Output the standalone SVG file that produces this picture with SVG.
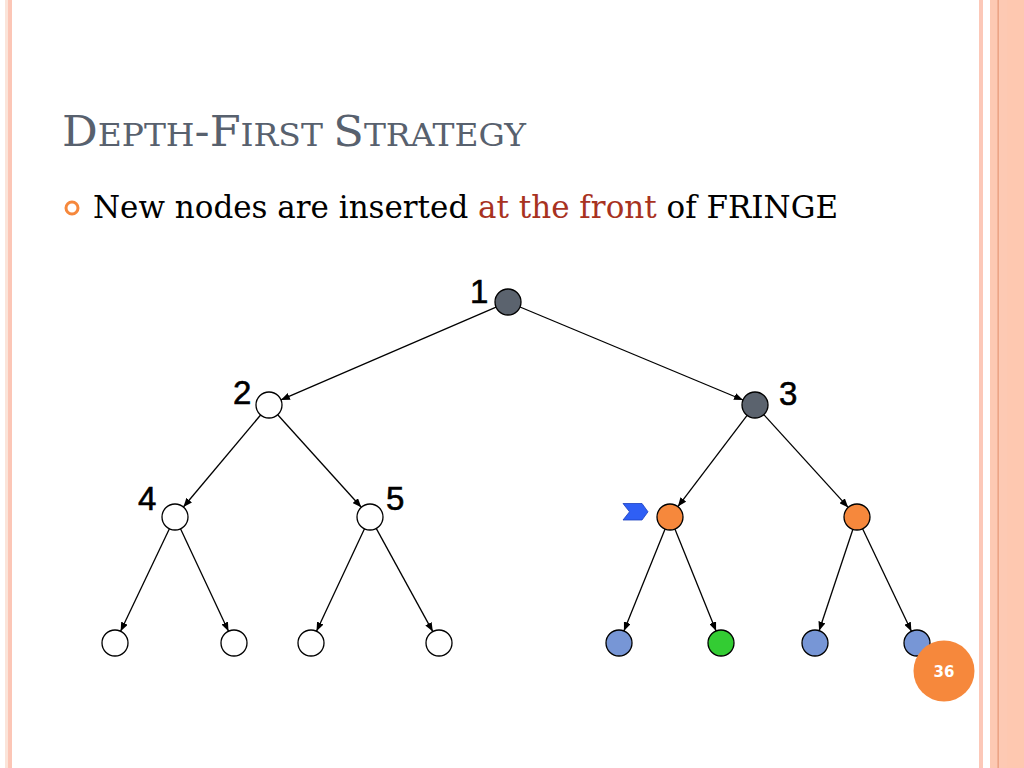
<svg xmlns="http://www.w3.org/2000/svg" width="1024" height="768" viewBox="0 0 1024 768">
  <style>
    .node { stroke: #000; stroke-width: 1.3; }
    .white { fill: #fff; }
    .dark { fill: #5b636e; }
    .orange { fill: #f6883c; }
    .blue { fill: #7796d6; }
    .green { fill: #33cc33; }
    .edge { stroke: #000; stroke-width: 1.3; fill: none; marker-end: url(#arrow); }
    .label { font-family: "Liberation Sans", Arial, sans-serif; font-size: 33px; fill: #000; stroke: #000; stroke-width: 0.6; }
    .title { font-family: "DejaVu Serif", "Liberation Serif", serif; fill: #58616e; }
    .body { font-family: "DejaVu Serif", "Liberation Serif", serif; font-size: 32px; fill: #000; }
  </style>
  <defs>
    <marker id="arrow" viewBox="0 0 10 8" refX="10" refY="4" markerWidth="9" markerHeight="7.2" markerUnits="userSpaceOnUse" orient="auto">
      <path d="M0,0 L10,4 L0,8 z" fill="#000"/>
    </marker>
  </defs>
  <rect width="1024" height="768" fill="#fff"/>
  <!-- borders -->
  <g id="border-left">
    <rect x="5" y="0" width="3" height="768" fill="#fbe4d9"/>
    <rect x="8" y="0" width="4" height="768" fill="#fcc6b6"/>
  </g>
  <g id="border-right">
    <rect x="979" y="0" width="4" height="768" fill="#fcc8b8"/>
    <rect x="990" y="0" width="34" height="768" fill="#fdc9b3"/>
    <rect x="997.5" y="0" width="1.3" height="768" fill="#e89b7c"/>
    <rect x="1007.5" y="0" width="16.5" height="768" fill="#fec8b0"/>
  </g>
  <!-- title -->
  <g id="title">
    <text class="title" x="62" y="146" textLength="464" lengthAdjust="spacingAndGlyphs"><tspan font-size="42">D</tspan><tspan font-size="31">EPTH</tspan><tspan font-size="42">-F</tspan><tspan font-size="31">IRST </tspan><tspan font-size="42">S</tspan><tspan font-size="31">TRATEGY</tspan></text>
  </g>
  <g id="bullet">
    <circle cx="72" cy="208" r="6" fill="none" stroke="#f6883c" stroke-width="3"/>
    <text class="body" x="93" y="218" textLength="745" lengthAdjust="spacingAndGlyphs">New nodes are inserted <tspan fill="#a8321f">at the front</tspan> of FRINGE</text>
  </g>
  <!-- connectors -->
  <g id="connectors">
    <line class="edge" x1="496.1" y1="307.2" x2="280.9" y2="399.9"/>
    <line class="edge" x1="520.0" y1="307.0" x2="743.0" y2="400.0"/>
    <line class="edge" x1="260.6" y1="415.0" x2="183.4" y2="507.0"/>
    <line class="edge" x1="277.7" y1="414.7" x2="361.3" y2="507.3"/>
    <line class="edge" x1="747.1" y1="415.4" x2="677.9" y2="506.6"/>
    <line class="edge" x1="763.8" y1="414.6" x2="848.2" y2="507.4"/>
    <line class="edge" x1="169.4" y1="528.7" x2="120.6" y2="631.3"/>
    <line class="edge" x1="180.5" y1="528.8" x2="228.5" y2="631.2"/>
    <line class="edge" x1="364.5" y1="528.8" x2="316.5" y2="631.2"/>
    <line class="edge" x1="376.2" y1="528.4" x2="432.8" y2="631.6"/>
    <line class="edge" x1="665.1" y1="529.0" x2="623.9" y2="631.0" stroke-width="1.6"/>
    <line class="edge" x1="674.9" y1="529.0" x2="716.1" y2="631.0" stroke-width="1.6"/>
    <line class="edge" x1="852.9" y1="529.3" x2="819.1" y2="630.7"/>
    <line class="edge" x1="862.6" y1="528.7" x2="911.4" y2="631.3"/>
  </g>
  <!-- nodes -->
  <g id="node1"><circle class="node dark" cx="508" cy="302" r="13"/><text class="label" x="470" y="303">1</text></g>
  <g id="node2"><circle class="node white" cx="269" cy="405" r="13"/><text class="label" x="233" y="404">2</text></g>
  <g id="node3"><circle class="node dark" cx="755" cy="405" r="13"/><text class="label" x="779" y="405">3</text></g>
  <g id="node4"><circle class="node white" cx="175" cy="517" r="13"/><text class="label" x="138" y="510">4</text></g>
  <g id="node5"><circle class="node white" cx="370" cy="517" r="13"/><text class="label" x="386" y="510">5</text></g>
  <g id="node6"><circle class="node orange" cx="670" cy="517" r="13"/></g>
  <g id="node7"><circle class="node orange" cx="857" cy="517" r="13"/></g>
  <g id="leaf1"><circle class="node white" cx="115" cy="643" r="13"/></g>
  <g id="leaf2"><circle class="node white" cx="234" cy="643" r="13"/></g>
  <g id="leaf3"><circle class="node white" cx="311" cy="643" r="13"/></g>
  <g id="leaf4"><circle class="node white" cx="439" cy="643" r="13"/></g>
  <g id="leaf5"><circle class="node blue" cx="619" cy="643" r="13"/></g>
  <g id="leaf6"><circle class="node green" cx="721" cy="643" r="13"/></g>
  <g id="leaf7"><circle class="node blue" cx="815" cy="643" r="13"/></g>
  <g id="leaf8"><circle class="node blue" cx="917" cy="643" r="13"/></g>
  <!-- fringe pointer -->
  <g id="pointer">
    <polygon points="623,503.5 642,503.5 648,511.8 642,520 623,520 629.5,511.8" fill="#2f5ff5" stroke="#1a3fbf" stroke-width="0.8"/>
  </g>
  <!-- page number -->
  <g id="page-number">
    <circle cx="944" cy="671" r="30.5" fill="#f6883c"/>
    <text x="944" y="677" text-anchor="middle" font-family="DejaVu Sans, Verdana, sans-serif" font-weight="bold" font-size="15" fill="#fff">36</text>
  </g>
</svg>
